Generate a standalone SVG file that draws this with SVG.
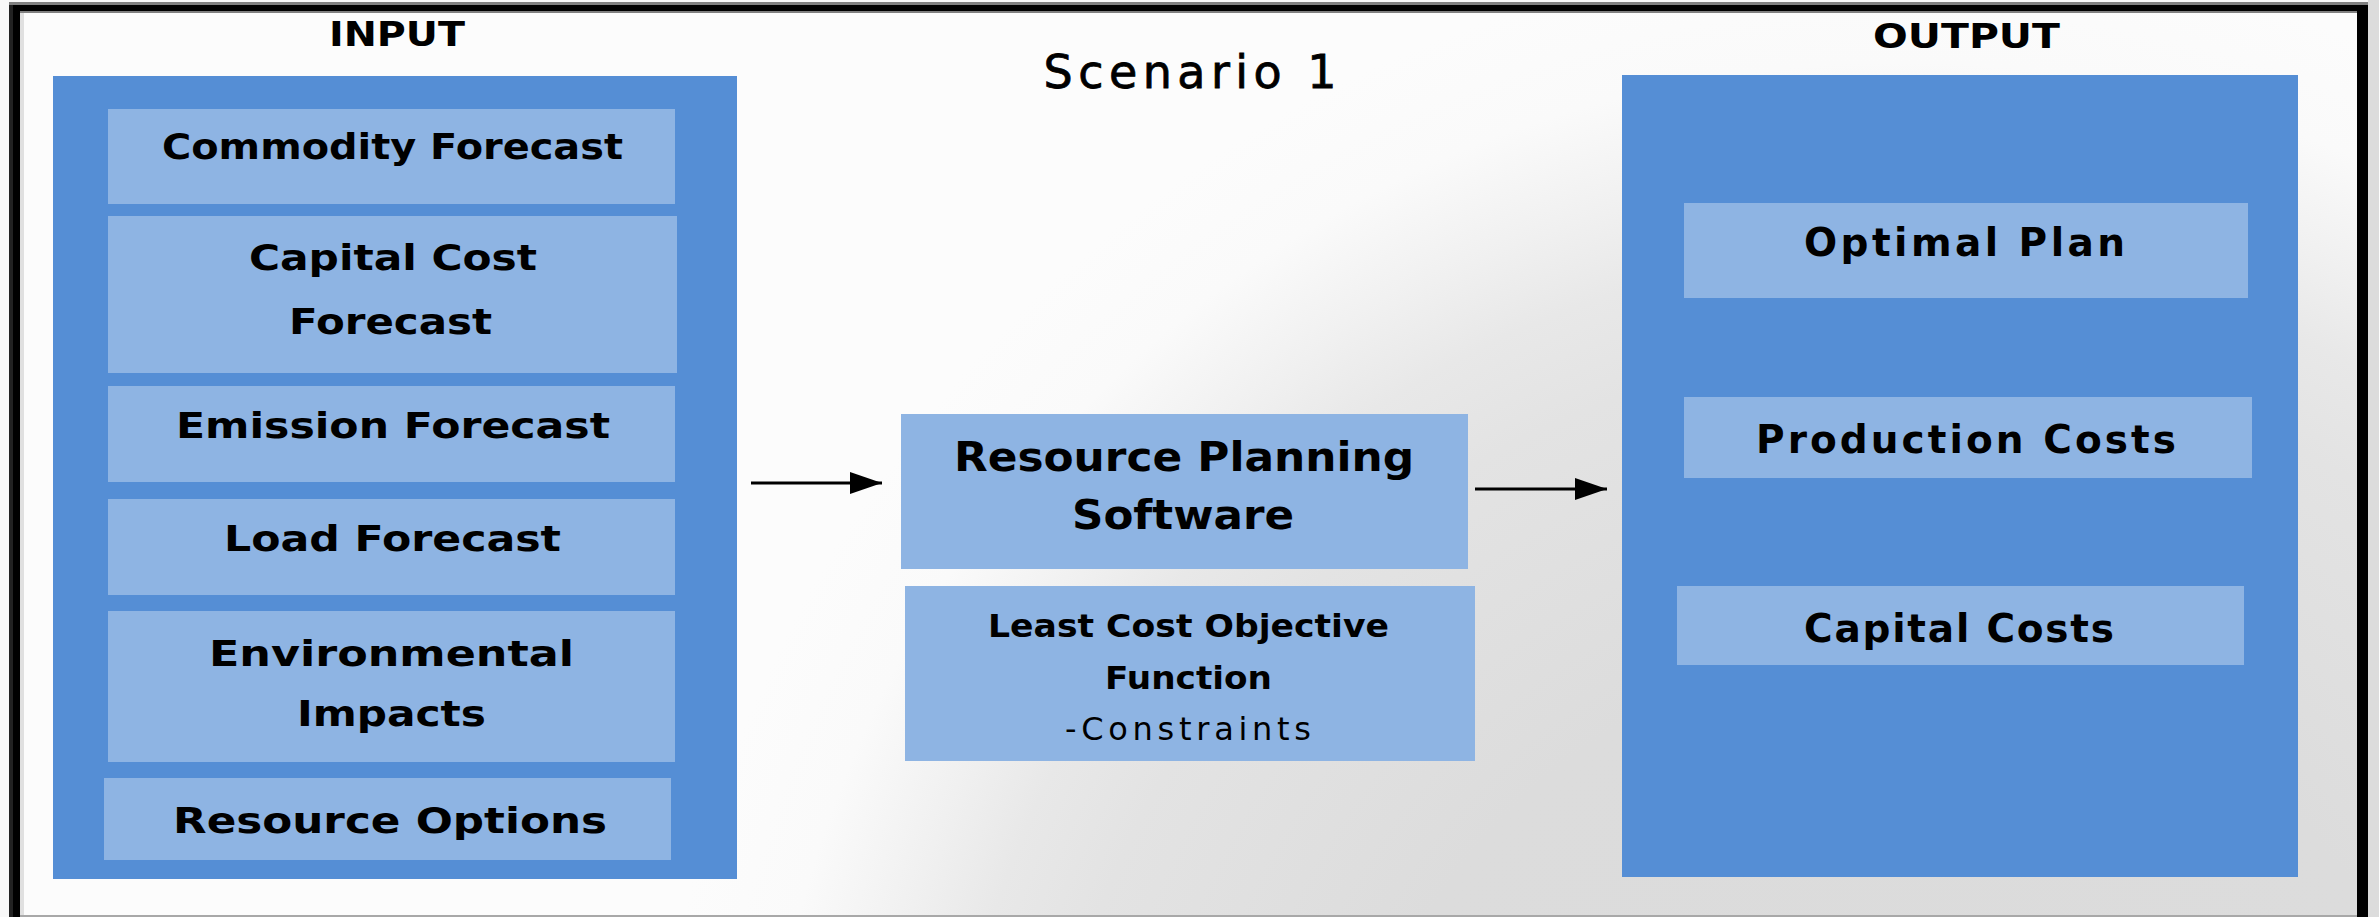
<svg xmlns="http://www.w3.org/2000/svg" width="2379" height="917" viewBox="0 0 2379 917">
  <defs>
    <radialGradient id="bg" cx="1900" cy="1200" r="1250" gradientUnits="userSpaceOnUse">
      <stop offset="0" stop-color="#dbdbdb"/>
      <stop offset="0.44" stop-color="#dcdcdc"/>
      <stop offset="0.68" stop-color="#e3e3e3"/>
      <stop offset="0.76" stop-color="#e8e8e8"/>
      <stop offset="0.824" stop-color="#f0f0f0"/>
      <stop offset="0.91" stop-color="#fafafa"/>
      <stop offset="1" stop-color="#fcfcfc"/>
    </radialGradient>
    <marker id="arrow" markerUnits="userSpaceOnUse" markerWidth="34" markerHeight="24" refX="32" refY="11" orient="auto">
      <path d="M0,0 L32,11 L0,22 z" fill="#000"/>
    </marker>
    <style>
      .outer { fill: #558ED5; }
      .inner { fill: #8EB4E3; }
      .t { font-family: "DejaVu Sans", Verdana, sans-serif; font-weight: bold; fill: #000; text-anchor: middle; }
      .lbl { font-size: 33px; }
      .in { font-size: 36px; }
      .out { font-size: 39px; }
      .mid { font-size: 40px; }
      .sm { font-size: 32px; }
      .reg { font-weight: normal; }
      .conn { stroke: #000; stroke-width: 3; fill: none; marker-end: url(#arrow); }
    </style>
  </defs>

  <!-- background and frame -->
  <rect x="0" y="0" width="2379" height="917" fill="#f8f8f8"/>
  <rect x="2368" y="0" width="11" height="917" fill="#dcdcdc"/>
  <rect x="20" y="11" width="2337" height="904" fill="url(#bg)"/>
  <rect x="20" y="11" width="2337" height="2" fill="#808080"/>
  <rect x="20" y="13" width="4" height="902" fill="#e0e0e0"/>
  <rect x="9" y="2" width="2359" height="3" fill="#808080"/>
  <rect x="9" y="5" width="2359" height="6" fill="#000"/>
  <rect x="9" y="5" width="4" height="912" fill="#222"/>
  <rect x="13" y="5" width="7" height="912" fill="#000"/>
  <rect x="2357" y="5" width="11" height="912" fill="#000"/>
  <rect x="20" y="915" width="2337" height="2" fill="#a8a8a8"/>

  <g id="title">
    <text class="t reg" x="1190" y="88" font-size="46" stroke="#000" stroke-width="0.8" textLength="293" lengthAdjust="spacing">Scenario 1</text>
  </g>

  <g id="input">
    <rect class="outer" x="53" y="76" width="684" height="803"/>
    <text class="t lbl" x="397" y="46" textLength="136" lengthAdjust="spacingAndGlyphs">INPUT</text>
  </g>
  <g id="commodity-forecast">
    <rect class="inner" x="108" y="109" width="567" height="95"/>
    <text class="t in" x="392.5" y="159" textLength="461" lengthAdjust="spacingAndGlyphs">Commodity Forecast</text>
  </g>
  <g id="capital-cost-forecast">
    <rect class="inner" x="108" y="216" width="569" height="157"/>
    <text class="t in" x="393" y="270" textLength="288" lengthAdjust="spacingAndGlyphs">Capital Cost</text>
    <text class="t in" x="390.5" y="334" textLength="203" lengthAdjust="spacingAndGlyphs">Forecast</text>
  </g>
  <g id="emission-forecast">
    <rect class="inner" x="108" y="386" width="567" height="96"/>
    <text class="t in" x="393" y="438" textLength="434" lengthAdjust="spacingAndGlyphs">Emission Forecast</text>
  </g>
  <g id="load-forecast">
    <rect class="inner" x="108" y="499" width="567" height="96"/>
    <text class="t in" x="392.5" y="551" textLength="337" lengthAdjust="spacingAndGlyphs">Load Forecast</text>
  </g>
  <g id="environmental-impacts">
    <rect class="inner" x="108" y="611" width="567" height="151"/>
    <text class="t in" x="391.5" y="666" textLength="365" lengthAdjust="spacingAndGlyphs">Environmental</text>
    <text class="t in" x="391.5" y="726" textLength="189" lengthAdjust="spacingAndGlyphs">Impacts</text>
  </g>
  <g id="resource-options">
    <rect class="inner" x="104" y="778" width="567" height="82"/>
    <text class="t in" x="390" y="833" textLength="434" lengthAdjust="spacingAndGlyphs">Resource Options</text>
  </g>

  <g id="resource-planning-software">
    <rect class="inner" x="901" y="414" width="567" height="155"/>
    <text class="t mid" x="1184" y="471" textLength="460" lengthAdjust="spacingAndGlyphs">Resource Planning</text>
    <text class="t mid" x="1183" y="529" textLength="222" lengthAdjust="spacingAndGlyphs">Software</text>
  </g>
  <g id="least-cost-objective">
    <rect class="inner" x="905" y="586" width="570" height="175"/>
    <text class="t sm" x="1188.5" y="637" textLength="401" lengthAdjust="spacingAndGlyphs">Least Cost Objective</text>
    <text class="t sm" x="1188.5" y="689" textLength="167" lengthAdjust="spacingAndGlyphs">Function</text>
    <text class="t sm reg" x="1188" y="740" textLength="246" lengthAdjust="spacing">-Constraints</text>
  </g>

  <g id="output">
    <rect class="outer" x="1622" y="75" width="676" height="802"/>
    <text class="t lbl" x="1966.5" y="48" textLength="187" lengthAdjust="spacingAndGlyphs">OUTPUT</text>
  </g>
  <g id="optimal-plan">
    <rect class="inner" x="1684" y="203" width="564" height="95"/>
    <text class="t out" x="1964.5" y="256" textLength="321" lengthAdjust="spacing">Optimal Plan</text>
  </g>
  <g id="production-costs">
    <rect class="inner" x="1684" y="397" width="568" height="81"/>
    <text class="t out" x="1966" y="453" textLength="420" lengthAdjust="spacing">Production Costs</text>
  </g>
  <g id="capital-costs">
    <rect class="inner" x="1677" y="586" width="567" height="79"/>
    <text class="t out" x="1959" y="642" textLength="310" lengthAdjust="spacing">Capital Costs</text>
  </g>

  <g id="connectors">
    <line class="conn" x1="751" y1="483" x2="882" y2="483"/>
    <line class="conn" x1="1475" y1="489" x2="1607" y2="489"/>
  </g>
</svg>
